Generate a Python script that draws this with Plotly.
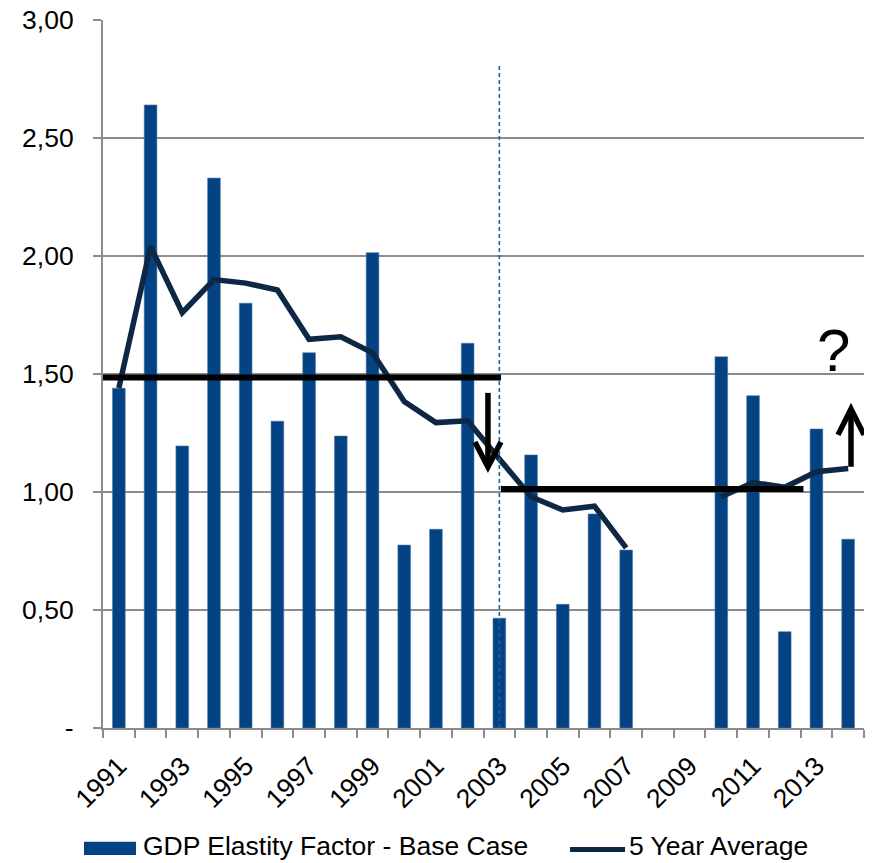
import plotly.graph_objects as go

# GDP elasticity factor (base case) per year, with its 5-year rolling average
years = list(range(1991, 2015))
elasticity = [1.44, 2.64, 1.195, 2.33, 1.80, 1.30, 1.59, 1.237, 2.014, 0.775,
              0.842, 1.63, 0.465, 1.157, 0.524, 0.907, 0.754, None, None, 1.573,
              1.408, 0.408, 1.267, 0.80]
five_year_avg = [1.44, 2.04, 1.76, 1.90, 1.885, 1.856, 1.647, 1.658, 1.59, 1.383,
                 1.294, 1.302, 1.14, 0.98, 0.924, 0.94, 0.763, None, None, 0.98,
                 1.04, 1.02, 1.086, 1.10]

# Period levels before and after the 2003 break
level_before = 1.485
level_after = 1.013
break_year = 2003

y_ticks = [0, 0.5, 1.0, 1.5, 2.0, 2.5, 3.0]
y_tick_text = ["-", "0,50", "1,00", "1,50", "2,00", "2,50", "3,00"]
x_label_years = list(range(1991, 2014, 2))

BAR_NAME = "GDP Elastity Factor - Base Case"
LINE_NAME = "5 Year Average"

BAR_COLOR = "#034283"
LINE_COLOR = "#0E2745"
GRID = "#8C8C8C"
FONT = "Liberation Sans, Arial, sans-serif"
FS = 26.5
LEGEND_Y = -0.1667

fig = go.Figure()
fig.add_trace(go.Bar(
    x=years, y=elasticity, width=0.4,
    marker=dict(color=BAR_COLOR, line=dict(color="#4F77A6", width=0.6)),
    name=BAR_NAME, showlegend=False,
))
fig.add_trace(go.Scatter(
    x=years, y=five_year_avg, mode="lines",
    line=dict(color=LINE_COLOR, width=5.5),
    connectgaps=False,
    name=LINE_NAME, showlegend=False,
))

shapes = [
    # vertical marker at the break year
    dict(type="line", xref="x", yref="y", x0=break_year, x1=break_year,
         y0=0, y1=2.81, line=dict(color="#2460A4", width=1.6, dash="4px,3px")),
    # level lines
    dict(type="line", xref="x", yref="y", x0=1990.23, x1=break_year + 0.05,
         y0=level_before, y1=level_before, line=dict(color="black", width=6)),
    dict(type="line", xref="x", yref="y", x0=break_year + 0.05, x1=2012.59,
         y0=level_after, y1=level_after, line=dict(color="black", width=6)),
    # down arrow
    dict(type="path", xref="x", yref="y",
         path="M 2002.64 1.42 L 2002.64 1.11", line=dict(color="black", width=5.5)),
    dict(type="path", xref="x", yref="y",
         path="M 2002.23 1.212 L 2002.64 1.106 L 2003.05 1.212",
         line=dict(color="black", width=5.5)),
    # up arrow
    dict(type="path", xref="x", yref="y",
         path="M 2014.09 1.107 L 2014.09 1.345", line=dict(color="black", width=5.5)),
    dict(type="path", xref="x", yref="y",
         path="M 2013.68 1.242 L 2014.09 1.352 L 2014.5 1.242",
         line=dict(color="black", width=5.5)),
    # legend swatches
    dict(type="rect", xref="paper", yref="paper", x0=-0.025, x1=0.0434,
         y0=-0.1795, y1=-0.1605, fillcolor=BAR_COLOR, line=dict(width=0)),
    dict(type="line", xref="paper", yref="paper", x0=0.6137, x1=0.686,
         y0=-0.1715, y1=-0.1715, line=dict(color=LINE_COLOR, width=5)),
]

annotations = [
    dict(x=2013.55, y=1.6, xref="x", yref="y", text="?",
         showarrow=False, font=dict(size=60, color="black")),
    dict(x=0.0512, y=LEGEND_Y, xref="paper", yref="paper", text=BAR_NAME,
         xanchor="left", yanchor="middle", showarrow=False, borderpad=0,
         font=dict(size=FS)),
    dict(x=0.6905, y=LEGEND_Y, xref="paper", yref="paper", text=LINE_NAME,
         xanchor="left", yanchor="middle", showarrow=False, borderpad=0,
         font=dict(size=FS)),
]

fig.update_layout(
    width=874, height=863,
    margin=dict(l=103, r=10, t=20, b=135),
    plot_bgcolor="white", paper_bgcolor="white",
    font=dict(family=FONT, size=FS, color="black"),
    showlegend=False,
    shapes=shapes,
    annotations=annotations,
)

fig.update_xaxes(
    range=[1990.5, 2014.5], automargin=False,
    tickmode="array", tickvals=x_label_years, ticktext=[str(y) for y in x_label_years],
    tickangle=-45, ticks="", showgrid=False,
    showline=True, linecolor=GRID, linewidth=2,
    minor=dict(tickmode="linear", tick0=1990.5, dtick=1, ticks="outside",
               ticklen=8, tickcolor=GRID, tickwidth=2, showgrid=False),
    ticklabelstandoff=10,
    tickfont=dict(size=FS),
    zeroline=False,
)
fig.update_yaxes(
    range=[0, 3.0], automargin=False,
    tickmode="array", tickvals=y_ticks, ticktext=y_tick_text,
    ticks="outside", ticklen=8, tickcolor=GRID, tickwidth=2,
    showgrid=True, gridcolor=GRID, gridwidth=1.5,
    showline=True, linecolor=GRID, linewidth=2,
    ticklabelstandoff=14,
    tickfont=dict(size=FS),
    zeroline=False,
)

fig.write_html("out.html")
